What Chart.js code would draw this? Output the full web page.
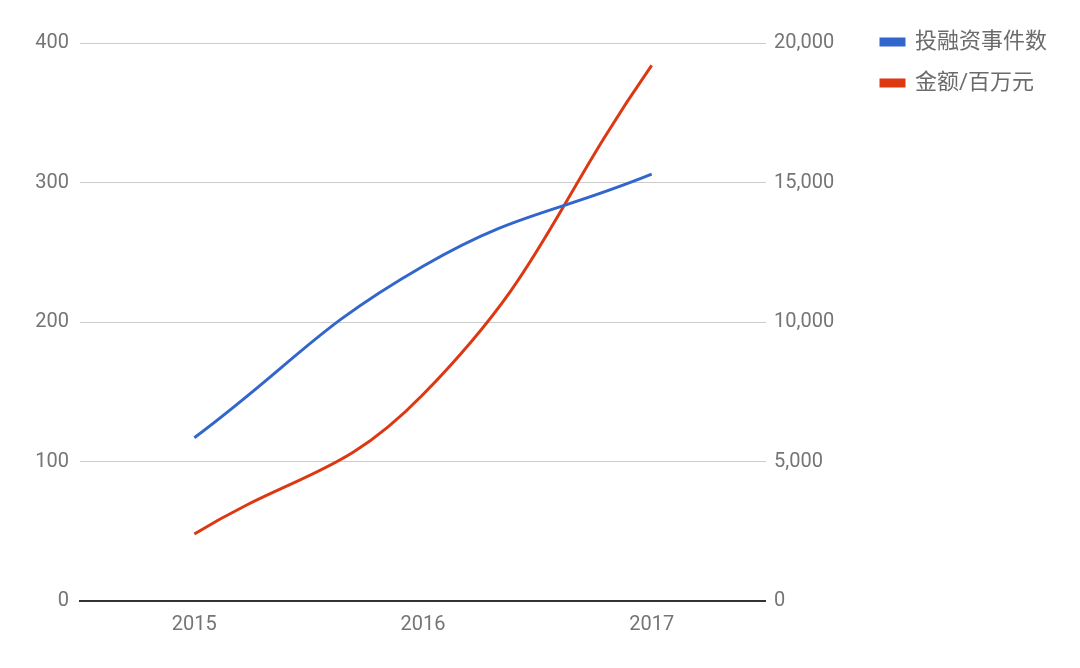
<!DOCTYPE html>
<html>
<head>
<meta charset="utf-8">
<script src="https://cdn.jsdelivr.net/npm/chart.js@4/dist/chart.umd.min.js"></script>
<style>
  html, body { margin: 0; padding: 0; background: #fff; }
  #wrap { width: 1080px; height: 668px; }
</style>
</head>
<body>
<div id="wrap"><canvas id="myChart" width="1080" height="668"></canvas></div>
<script>
// chart data
const years = ['2015', '2016', '2017'];
const dealCounts = [117, 240, 306];         // 投融资事件数 (left axis)
const amounts = [2400, 7400, 19200];        // 金额/百万元 (right axis)
const leftTicks = [0, 100, 200, 300, 400];
const rightTicks = [0, 5000, 10000, 15000, 20000];

const FONT = 'Roboto, "Noto Sans CJK SC", sans-serif';
const tickColor = '#757575';

const ctx = document.getElementById('myChart').getContext('2d');

new Chart(ctx, {
    type: 'line',
    data: {
        labels: years,
        datasets: [{
            label: '投融资事件数',
            data: dealCounts,
            yAxisID: 'y',
            borderColor: '#3366cc',
            backgroundColor: '#3366cc',
            borderWidth: 3,
            pointRadius: 0,
            tension: 0.45
        }, {
            label: '金额/百万元',
            data: amounts,
            yAxisID: 'y1',
            borderColor: '#dc3912',
            backgroundColor: '#dc3912',
            borderWidth: 3,
            pointRadius: 0,
            tension: 0.45
        }]
    },
    options: {
        responsive: false,
        animation: false,
        layout: { padding: { left: 0, right: 23, top: 12, bottom: 0 } },
        plugins: {
            // empty title only pushes the plot area down
            title: { display: true, text: '', font: { size: 10 }, padding: { top: 0, bottom: 19 } },
            tooltip: { enabled: false },
            legend: {
                position: 'right',
                align: 'start',
                maxWidth: 240,
                labels: {
                    color: '#6b6b6b',
                    font: { family: FONT, size: 22 },
                    boxWidth: 23,
                    boxHeight: 6,
                    padding: 19
                }
            }
        },
        scales: {
            x: {
                offset: true,
                grid: { display: false },
                border: { display: true, color: '#333', width: 2 },
                ticks: { color: tickColor, font: { family: FONT, size: 20 }, padding: 4 },
                afterFit: (s) => { s.height = 67; }
            },
            y: {
                position: 'left',
                min: 0,
                max: 400,
                afterBuildTicks: (s) => { s.ticks = leftTicks.map(v => ({ value: v })); },
                grid: {
                    color: (c) => c.tick && c.tick.value === 0 ? '#333' : '#cccccc',
                    lineWidth: 1,
                    drawTicks: false
                },
                border: { display: false },
                ticks: { color: tickColor, font: { family: FONT, size: 20 }, padding: 11 },
                afterFit: (s) => { s.width = 80; }
            },
            y1: {
                position: 'right',
                min: 0,
                max: 20000,
                afterBuildTicks: (s) => { s.ticks = rightTicks.map(v => ({ value: v })); },
                grid: { display: false, drawTicks: false },
                border: { display: false },
                ticks: {
                    color: tickColor,
                    font: { family: FONT, size: 20 },
                    padding: 8,
                    callback: (v) => v.toLocaleString('en-US')
                },
                afterFit: (s) => { s.width = 96; }
            }
        }
    }
});
</script>
</body>
</html>
